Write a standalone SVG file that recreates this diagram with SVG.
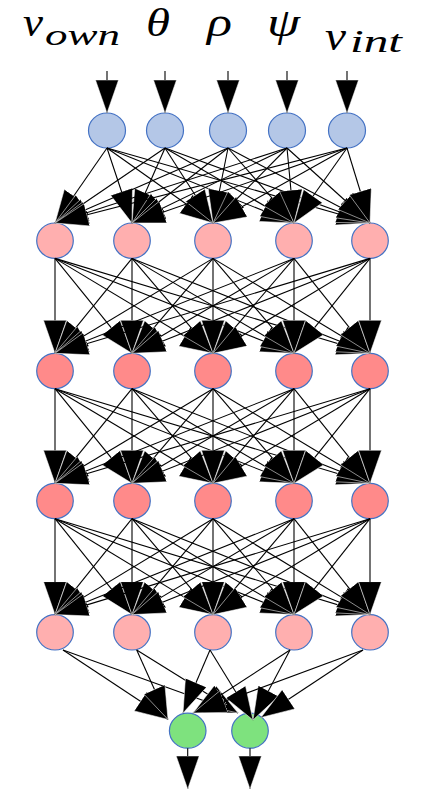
<svg xmlns="http://www.w3.org/2000/svg" width="424" height="789" viewBox="0 0 424 789">
<defs>
<marker id="ah" markerUnits="userSpaceOnUse" markerWidth="34" markerHeight="24" viewBox="0 0 34 24" refX="33" refY="11.5" orient="auto">
<path d="M0,0 L33,11.5 L0,23 z" fill="#000" stroke="#fff" stroke-width="0.5"/>
</marker>
</defs>
<style>
.n{stroke:#4472C4;stroke-width:1.2}
.in{fill:#B4C7E7}
.lp{fill:#FFAFAF}
.rd{fill:#FF8A8A}
.gr{fill:#7EE27E}
.e{stroke:#000;stroke-width:1.1;fill:none;marker-end:url(#ah)}
</style>
<rect width="424" height="789" fill="#fff"/>
<g id="labels" font-family="'Liberation Serif', 'DejaVu Serif', serif" font-style="italic" fill="#000">
<text x="23" y="36" font-size="40" textLength="20" lengthAdjust="spacingAndGlyphs">v</text>
<text x="45" y="45" font-size="30" textLength="75" lengthAdjust="spacingAndGlyphs">own</text>
<text x="146" y="36" font-size="40" textLength="24" lengthAdjust="spacingAndGlyphs">θ</text>
<text x="207" y="36" font-size="40" textLength="25" lengthAdjust="spacingAndGlyphs">ρ</text>
<text x="267" y="36" font-size="40" textLength="33" lengthAdjust="spacingAndGlyphs">ψ</text>
<text x="325" y="50" font-size="40" textLength="21" lengthAdjust="spacingAndGlyphs">v</text>
<text x="350" y="52" font-size="32" textLength="52" lengthAdjust="spacingAndGlyphs">int</text>
</g>
<g id="in1"><ellipse class="n in" cx="107" cy="130.5" rx="18.5" ry="17.5"/></g>
<g id="in2"><ellipse class="n in" cx="165" cy="130.5" rx="18.5" ry="17.5"/></g>
<g id="in3"><ellipse class="n in" cx="228" cy="130.5" rx="18.5" ry="17.5"/></g>
<g id="in4"><ellipse class="n in" cx="287" cy="130.5" rx="18.5" ry="17.5"/></g>
<g id="in5"><ellipse class="n in" cx="347" cy="130.5" rx="18.5" ry="17.5"/></g>
<g id="h1a"><ellipse class="n lp" cx="55" cy="240.7" rx="18.3" ry="17.7"/></g>
<g id="h1b"><ellipse class="n lp" cx="132" cy="240.7" rx="18.3" ry="17.7"/></g>
<g id="h1c"><ellipse class="n lp" cx="213" cy="240.7" rx="18.3" ry="17.7"/></g>
<g id="h1d"><ellipse class="n lp" cx="294" cy="240.7" rx="18.3" ry="17.7"/></g>
<g id="h1e"><ellipse class="n lp" cx="370" cy="240.7" rx="18.3" ry="17.7"/></g>
<g id="h2a"><ellipse class="n rd" cx="55" cy="371" rx="18.3" ry="17.7"/></g>
<g id="h2b"><ellipse class="n rd" cx="132" cy="371" rx="18.3" ry="17.7"/></g>
<g id="h2c"><ellipse class="n rd" cx="213" cy="371" rx="18.3" ry="17.7"/></g>
<g id="h2d"><ellipse class="n rd" cx="294" cy="371" rx="18.3" ry="17.7"/></g>
<g id="h2e"><ellipse class="n rd" cx="370" cy="371" rx="18.3" ry="17.7"/></g>
<g id="h3a"><ellipse class="n rd" cx="55" cy="501" rx="18.3" ry="17.7"/></g>
<g id="h3b"><ellipse class="n rd" cx="132" cy="501" rx="18.3" ry="17.7"/></g>
<g id="h3c"><ellipse class="n rd" cx="213" cy="501" rx="18.3" ry="17.7"/></g>
<g id="h3d"><ellipse class="n rd" cx="294" cy="501" rx="18.3" ry="17.7"/></g>
<g id="h3e"><ellipse class="n rd" cx="370" cy="501" rx="18.3" ry="17.7"/></g>
<g id="h4a"><ellipse class="n lp" cx="55" cy="632.3" rx="18.3" ry="17.7"/></g>
<g id="h4b"><ellipse class="n lp" cx="132" cy="632.3" rx="18.3" ry="17.7"/></g>
<g id="h4c"><ellipse class="n lp" cx="213" cy="632.3" rx="18.3" ry="17.7"/></g>
<g id="h4d"><ellipse class="n lp" cx="294" cy="632.3" rx="18.3" ry="17.7"/></g>
<g id="h4e"><ellipse class="n lp" cx="370" cy="632.3" rx="18.3" ry="17.7"/></g>
<g id="out1"><ellipse class="n gr" cx="187.7" cy="730.7" rx="18.3" ry="17.5"/></g>
<g id="out2"><ellipse class="n gr" cx="250" cy="730.7" rx="18.3" ry="17.5"/></g>
<g id="connectors">
<line class="e" x1="107" y1="71" x2="107" y2="113"/>
<line class="e" x1="165" y1="71" x2="165" y2="113"/>
<line class="e" x1="228" y1="71" x2="228" y2="113"/>
<line class="e" x1="287" y1="71" x2="287" y2="113"/>
<line class="e" x1="347" y1="71" x2="347" y2="113"/>
<line class="e" x1="107" y1="148" x2="55" y2="223"/>
<line class="e" x1="107" y1="148" x2="132" y2="223"/>
<line class="e" x1="107" y1="148" x2="213" y2="223"/>
<line class="e" x1="107" y1="148" x2="294" y2="223"/>
<line class="e" x1="107" y1="148" x2="370" y2="223"/>
<line class="e" x1="165" y1="148" x2="55" y2="223"/>
<line class="e" x1="165" y1="148" x2="132" y2="223"/>
<line class="e" x1="165" y1="148" x2="213" y2="223"/>
<line class="e" x1="165" y1="148" x2="294" y2="223"/>
<line class="e" x1="165" y1="148" x2="370" y2="223"/>
<line class="e" x1="228" y1="148" x2="55" y2="223"/>
<line class="e" x1="228" y1="148" x2="132" y2="223"/>
<line class="e" x1="228" y1="148" x2="213" y2="223"/>
<line class="e" x1="228" y1="148" x2="294" y2="223"/>
<line class="e" x1="228" y1="148" x2="370" y2="223"/>
<line class="e" x1="287" y1="148" x2="55" y2="223"/>
<line class="e" x1="287" y1="148" x2="132" y2="223"/>
<line class="e" x1="287" y1="148" x2="213" y2="223"/>
<line class="e" x1="287" y1="148" x2="294" y2="223"/>
<line class="e" x1="287" y1="148" x2="370" y2="223"/>
<line class="e" x1="347" y1="148" x2="55" y2="223"/>
<line class="e" x1="347" y1="148" x2="132" y2="223"/>
<line class="e" x1="347" y1="148" x2="213" y2="223"/>
<line class="e" x1="347" y1="148" x2="294" y2="223"/>
<line class="e" x1="347" y1="148" x2="370" y2="223"/>
<line class="e" x1="55" y1="258.4" x2="55" y2="353.3"/>
<line class="e" x1="55" y1="258.4" x2="132" y2="353.3"/>
<line class="e" x1="55" y1="258.4" x2="213" y2="353.3"/>
<line class="e" x1="55" y1="258.4" x2="294" y2="353.3"/>
<line class="e" x1="55" y1="258.4" x2="370" y2="353.3"/>
<line class="e" x1="132" y1="258.4" x2="55" y2="353.3"/>
<line class="e" x1="132" y1="258.4" x2="132" y2="353.3"/>
<line class="e" x1="132" y1="258.4" x2="213" y2="353.3"/>
<line class="e" x1="132" y1="258.4" x2="294" y2="353.3"/>
<line class="e" x1="132" y1="258.4" x2="370" y2="353.3"/>
<line class="e" x1="213" y1="258.4" x2="55" y2="353.3"/>
<line class="e" x1="213" y1="258.4" x2="132" y2="353.3"/>
<line class="e" x1="213" y1="258.4" x2="213" y2="353.3"/>
<line class="e" x1="213" y1="258.4" x2="294" y2="353.3"/>
<line class="e" x1="213" y1="258.4" x2="370" y2="353.3"/>
<line class="e" x1="294" y1="258.4" x2="55" y2="353.3"/>
<line class="e" x1="294" y1="258.4" x2="132" y2="353.3"/>
<line class="e" x1="294" y1="258.4" x2="213" y2="353.3"/>
<line class="e" x1="294" y1="258.4" x2="294" y2="353.3"/>
<line class="e" x1="294" y1="258.4" x2="370" y2="353.3"/>
<line class="e" x1="370" y1="258.4" x2="55" y2="353.3"/>
<line class="e" x1="370" y1="258.4" x2="132" y2="353.3"/>
<line class="e" x1="370" y1="258.4" x2="213" y2="353.3"/>
<line class="e" x1="370" y1="258.4" x2="294" y2="353.3"/>
<line class="e" x1="370" y1="258.4" x2="370" y2="353.3"/>
<line class="e" x1="55" y1="388.7" x2="55" y2="483.3"/>
<line class="e" x1="55" y1="388.7" x2="132" y2="483.3"/>
<line class="e" x1="55" y1="388.7" x2="213" y2="483.3"/>
<line class="e" x1="55" y1="388.7" x2="294" y2="483.3"/>
<line class="e" x1="55" y1="388.7" x2="370" y2="483.3"/>
<line class="e" x1="132" y1="388.7" x2="55" y2="483.3"/>
<line class="e" x1="132" y1="388.7" x2="132" y2="483.3"/>
<line class="e" x1="132" y1="388.7" x2="213" y2="483.3"/>
<line class="e" x1="132" y1="388.7" x2="294" y2="483.3"/>
<line class="e" x1="132" y1="388.7" x2="370" y2="483.3"/>
<line class="e" x1="213" y1="388.7" x2="55" y2="483.3"/>
<line class="e" x1="213" y1="388.7" x2="132" y2="483.3"/>
<line class="e" x1="213" y1="388.7" x2="213" y2="483.3"/>
<line class="e" x1="213" y1="388.7" x2="294" y2="483.3"/>
<line class="e" x1="213" y1="388.7" x2="370" y2="483.3"/>
<line class="e" x1="294" y1="388.7" x2="55" y2="483.3"/>
<line class="e" x1="294" y1="388.7" x2="132" y2="483.3"/>
<line class="e" x1="294" y1="388.7" x2="213" y2="483.3"/>
<line class="e" x1="294" y1="388.7" x2="294" y2="483.3"/>
<line class="e" x1="294" y1="388.7" x2="370" y2="483.3"/>
<line class="e" x1="370" y1="388.7" x2="55" y2="483.3"/>
<line class="e" x1="370" y1="388.7" x2="132" y2="483.3"/>
<line class="e" x1="370" y1="388.7" x2="213" y2="483.3"/>
<line class="e" x1="370" y1="388.7" x2="294" y2="483.3"/>
<line class="e" x1="370" y1="388.7" x2="370" y2="483.3"/>
<line class="e" x1="55" y1="518.7" x2="55" y2="614.6"/>
<line class="e" x1="55" y1="518.7" x2="132" y2="614.6"/>
<line class="e" x1="55" y1="518.7" x2="213" y2="614.6"/>
<line class="e" x1="55" y1="518.7" x2="294" y2="614.6"/>
<line class="e" x1="55" y1="518.7" x2="370" y2="614.6"/>
<line class="e" x1="132" y1="518.7" x2="55" y2="614.6"/>
<line class="e" x1="132" y1="518.7" x2="132" y2="614.6"/>
<line class="e" x1="132" y1="518.7" x2="213" y2="614.6"/>
<line class="e" x1="132" y1="518.7" x2="294" y2="614.6"/>
<line class="e" x1="132" y1="518.7" x2="370" y2="614.6"/>
<line class="e" x1="213" y1="518.7" x2="55" y2="614.6"/>
<line class="e" x1="213" y1="518.7" x2="132" y2="614.6"/>
<line class="e" x1="213" y1="518.7" x2="213" y2="614.6"/>
<line class="e" x1="213" y1="518.7" x2="294" y2="614.6"/>
<line class="e" x1="213" y1="518.7" x2="370" y2="614.6"/>
<line class="e" x1="294" y1="518.7" x2="55" y2="614.6"/>
<line class="e" x1="294" y1="518.7" x2="132" y2="614.6"/>
<line class="e" x1="294" y1="518.7" x2="213" y2="614.6"/>
<line class="e" x1="294" y1="518.7" x2="294" y2="614.6"/>
<line class="e" x1="294" y1="518.7" x2="370" y2="614.6"/>
<line class="e" x1="370" y1="518.7" x2="55" y2="614.6"/>
<line class="e" x1="370" y1="518.7" x2="132" y2="614.6"/>
<line class="e" x1="370" y1="518.7" x2="213" y2="614.6"/>
<line class="e" x1="370" y1="518.7" x2="294" y2="614.6"/>
<line class="e" x1="370" y1="518.7" x2="370" y2="614.6"/>
<line class="e" x1="63" y1="650" x2="168" y2="719.5"/>
<line class="e" x1="63" y1="650" x2="238" y2="713"/>
<line class="e" x1="136.7" y1="650" x2="168" y2="719.5"/>
<line class="e" x1="136.7" y1="650" x2="238" y2="713"/>
<line class="e" x1="210" y1="650" x2="183" y2="713"/>
<line class="e" x1="210" y1="650" x2="253" y2="720"/>
<line class="e" x1="290" y1="650" x2="193" y2="713"/>
<line class="e" x1="290" y1="650" x2="253" y2="720"/>
<line class="e" x1="363" y1="650" x2="193" y2="713"/>
<line class="e" x1="363" y1="650" x2="261" y2="717.5"/>
<line class="e" x1="187.7" y1="748.2" x2="187.7" y2="789"/>
<line class="e" x1="250" y1="748.2" x2="250" y2="789"/>
</g>
</svg>
